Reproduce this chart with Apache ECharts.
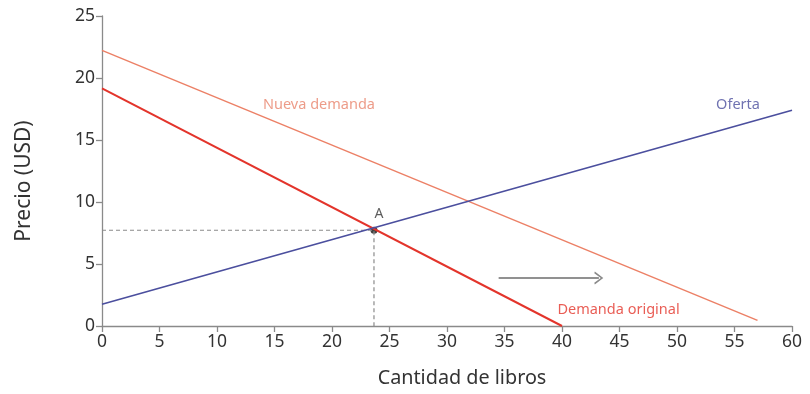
<!DOCTYPE html>
<html><head><meta charset="utf-8">
<script src="https://cdn.jsdelivr.net/npm/echarts@6/dist/echarts.min.js"></script>
<style>html,body{margin:0;padding:0;background:#fff}#c{width:810px;height:394px}</style>
</head><body><div id="c"></div>
<script>
const supply = [[0, 1.75], [60, 17.4]];
const demandOriginal = [[0, 19.17], [40, 0]];
const demandNew = [[0, 22.23], [57, 0.45]];
const pointA = [23.65, 7.72];
const arrowStart = [34.5, 3.87];
const arrowEnd = [43.2, 3.87];
const labels = [
  {name: 'Nueva demanda', pos: [14.0, 17.85], color: '#e8836c'},
  {name: 'Oferta', pos: [53.4, 17.85], color: '#4b4f9e'},
  {name: 'Demanda original', pos: [39.6, 1.3], color: '#e3342b'}
];
const xTicks = {min: 0, max: 60, interval: 5};
const yTicks = {min: 0, max: 25, interval: 5};

const font = 'Noto Sans';
const chart = echarts.init(document.getElementById('c'));
const axisCommon = {
  axisLine: {show: true, lineStyle: {color: '#8a8a8a', width: 1.3}},
  axisTick: {show: true, length: 6, lineStyle: {color: '#8a8a8a', width: 1.3}},
  splitLine: {show: false},
  axisLabel: {color: '#333', fontSize: 17.5, fontFamily: font, margin: 7}
};
chart.setOption({
  animation: false,
  grid: {left: 102, right: 18, top: 16, bottom: 68, containLabel: false},
  xAxis: Object.assign({type: 'value', min: xTicks.min, max: xTicks.max, interval: xTicks.interval,
    name: 'Cantidad de libros', nameLocation: 'middle', nameGap: 42,
    nameTextStyle: {color: '#333', fontSize: 19.8, fontFamily: font, padding: [0, 0, 0, 30]}}, axisCommon),
  yAxis: Object.assign({type: 'value', min: yTicks.min, max: yTicks.max, interval: yTicks.interval,
    name: 'Precio (USD)', nameLocation: 'middle', nameGap: 67,
    nameTextStyle: {color: '#333', fontSize: 21, fontFamily: font, padding: [0, 20, 0, 0]}}, axisCommon),
  series: [
    {type: 'line', data: [[0, pointA[1]], pointA, [pointA[0], 0]], symbol: 'none',
      lineStyle: {color: '#8a8a8a', width: 1.2, type: [4, 3]}},
    {type: 'line', data: demandNew, symbol: 'none', lineStyle: {color: '#ec8066', width: 1.5}},
    {type: 'line', data: demandOriginal, symbol: 'none', lineStyle: {color: '#e3342b', width: 2}},
    {type: 'line', data: supply, symbol: 'none', lineStyle: {color: '#4b4f9e', width: 1.7}},
    {type: 'line', data: [arrowStart, arrowEnd], symbol: 'none', lineStyle: {color: '#8a8a8a', width: 1.5},
      markLine: {silent: true, symbol: ['none', 'path://M0,10 L6,0 L12,10 L10.4,10.6 L6,3 L1.6,10.6 Z'], symbolSize: [13, 9],
        lineStyle: {color: '#8a8a8a', width: 1.5, type: 'solid'}, label: {show: false},
        data: [[{coord: arrowStart}, {coord: arrowEnd}]]}},
    {type: 'scatter', data: [pointA], symbolSize: 7, itemStyle: {color: '#111'},
      label: {show: true, formatter: 'A', position: 'top', offset: [5, -1], color: '#333', fontSize: 14, fontFamily: font}},
    {type: 'scatter', symbolSize: 0, silent: true,
      data: labels.map(l => ({value: l.pos, name: l.name,
        label: {show: true, position: 'right', distance: 0, formatter: l.name, color: l.color, fontSize: 14.5, fontFamily: font}}))}
  ]
});
</script></body></html>
